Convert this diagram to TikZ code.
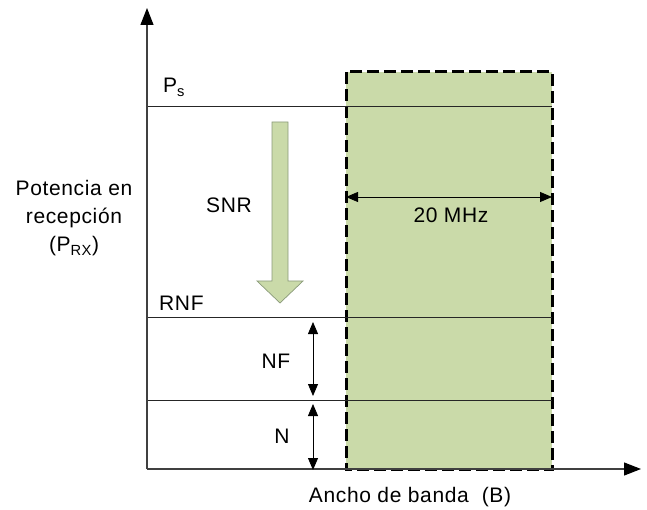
\documentclass[tikz,border=0pt]{standalone}
\usepackage{fontspec}
\setmainfont{Liberation Sans}[LetterSpace=3]
\usetikzlibrary{arrows.meta}
\definecolor{bandgreen}{HTML}{CADAA9}
\definecolor{bandedge}{HTML}{8A9A7A}
\tikzset{
  axis/.style={line width=1.1pt, draw=black!75, -{Triangle[length=17pt,width=13pt,color=black]}},
  level/.style={line width=0.9pt, draw=black!85},
  band/.style={fill=bandgreen, draw=black, line width=3pt, dash pattern=on 12pt off 5pt},
  dim/.style={line width=0.8pt, {Triangle[length=12pt,width=10pt]}-{Triangle[length=12pt,width=10pt]}},
  lbl/.style={font=\fontsize{21}{24}\selectfont, inner sep=0pt, anchor=base},
}
\begin{document}
\begin{tikzpicture}[x=1pt,y=-1pt]
\useasboundingbox (0,0) rectangle (647,510);
% band
\path[band] (346,72) rectangle (552,469);
% levels
\coordinate (psL) at (147,106); \coordinate (psR) at (552,106);
\coordinate (rnfL) at (147,317); \coordinate (rnfR) at (552,317);
\coordinate (nL) at (147,400); \coordinate (nR) at (552,400);
\draw[level] (psL) -- (psR);
\draw[level] (rnfL) -- (rnfR);
\draw[level] (nL) -- (nR);
% axes
\coordinate (o) at (147,469);
\coordinate (ytip) at (147,8);
\coordinate (xtip) at (641,469);
\draw[axis] (o) -- (ytip);
\draw[axis] (o) -- (xtip);
% band width dimension
\coordinate (bwL) at (346,197); \coordinate (bwR) at (552,197);
\draw[dim] (bwL) -- (bwR);
\node[lbl] (mhz) at (451,223) {20 MHz};
% SNR arrow
\draw[fill=bandgreen, draw=bandedge, line width=0.7pt]
  (272,122) -- (288,122) -- (288,281) -- (303,281) -- (280,303) -- (257,281) -- (272,281) -- cycle;
\node[lbl] (snr) at (229,213) {SNR};
% NF and N dimensions
\coordinate (nfT) at (313,322); \coordinate (nfB) at (313,396);
\coordinate (nT) at (313,404); \coordinate (nB) at (313,470);
\draw[dim] (nfT) -- (nfB);
\draw[dim] (nT) -- (nB);
\node[lbl] (nf) at (276,368) {NF};
\node[lbl] (n) at (282,443) {N};
% level labels
\node[lbl, anchor=base west] (ps) at (163,93) {P\textsubscript{s}};
\node[lbl, anchor=base west] (rnf) at (159,310) {RNF};
% y label
\node[lbl] (p1) at (74,196) {Potencia en};
\node[lbl] (p2) at (74,224) {recepción};
\node[lbl] (p3) at (74,252) {(P\textsubscript{RX})};
% x label
\node[lbl] (xl) at (410,502) {Ancho de banda\ \ (B)};
\end{tikzpicture}
\end{document}
